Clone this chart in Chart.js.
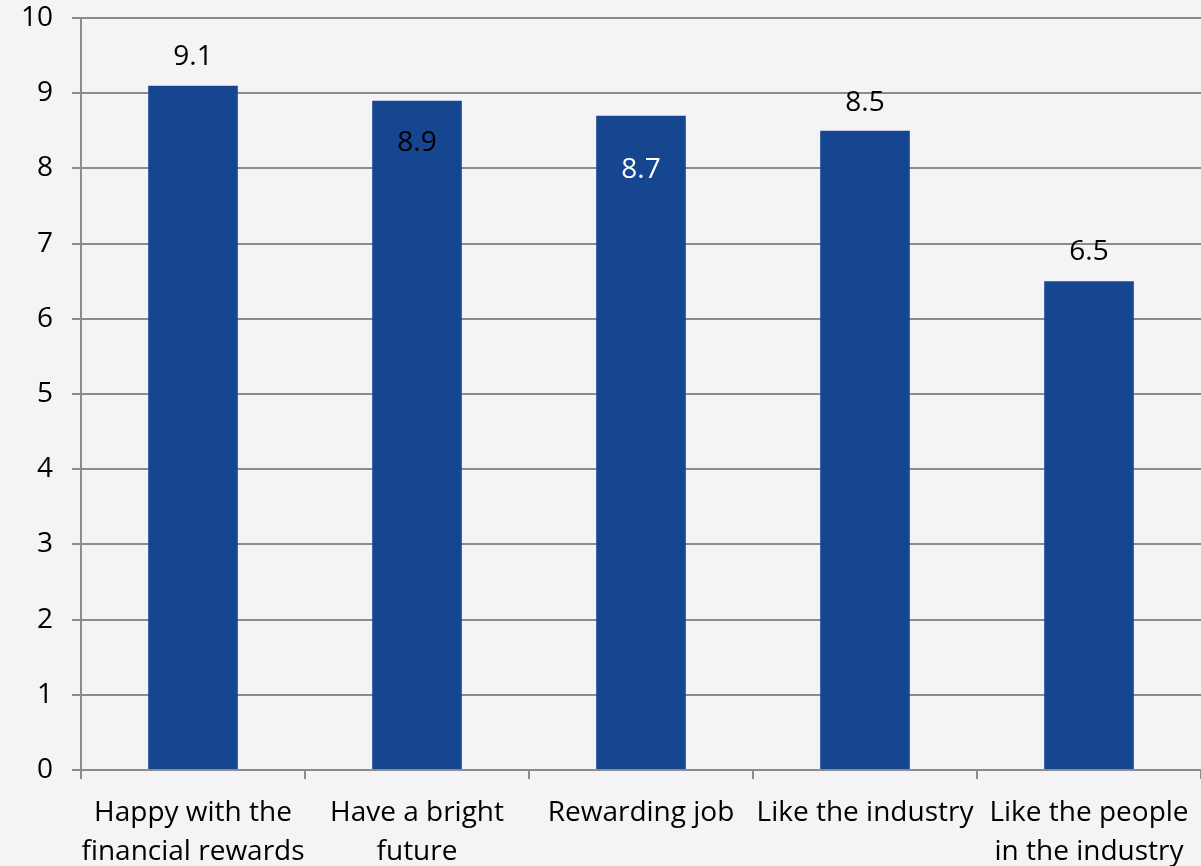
<!DOCTYPE html>
<html>
<head>
<meta charset="utf-8">
<script src="https://cdn.jsdelivr.net/npm/chart.js@4/dist/chart.umd.min.js"></script>
<style>
  html, body { margin: 0; padding: 0; background: #f4f4f6; }
  #wrap { width: 1201px; height: 866px; }
</style>
</head>
<body>
<div id="wrap"><canvas id="c" width="1201" height="866"></canvas></div>
<script>
const categories = [
  ["Happy with the", "financial rewards"],
  ["Have a bright", "future"],
  ["Rewarding job"],
  ["Like the industry"],
  ["Like the people", "in the industry"]
];
const scores = [9.1, 8.9, 8.7, 8.5, 6.5];
const yTicks = [0, 1, 2, 3, 4, 5, 6, 7, 8, 9, 10];

const FONT = "'Open Sans', 'Noto Sans', sans-serif";
const GRID = '#8c8c8c';

const labelPlacement = [-29, 42, 54, -28, -29];
const labelColors = ['#000000', '#000000', '#ffffff', '#000000', '#000000'];

const bgPlugin = {
  id: 'bg',
  beforeDraw(chart) {
    const ctx = chart.ctx;
    ctx.save();
    ctx.fillStyle = '#f4f4f6';
    ctx.fillRect(0, 0, chart.width, chart.height);
    ctx.restore();
  }
};

const valueLabels = {
  id: 'valueLabels',
  afterDatasetsDraw(chart) {
    const ctx = chart.ctx;
    const meta = chart.getDatasetMeta(0);
    ctx.save();
    ctx.font = '28px ' + FONT;
    ctx.textAlign = 'center';
    ctx.textBaseline = 'middle';
    meta.data.forEach((bar, i) => {
      ctx.fillStyle = labelColors[i];
      ctx.fillText(scores[i].toFixed(1), bar.x, bar.y + labelPlacement[i]);
    });
    ctx.restore();
  }
};

new Chart(document.getElementById('c'), {
  type: 'bar',
  data: {
    labels: categories,
    datasets: [{
      data: scores,
      backgroundColor: '#15468f',
      borderWidth: 0,
      barPercentage: 0.4,
      categoryPercentage: 1.0
    }]
  },
  options: {
    responsive: false,
    animation: false,
    devicePixelRatio: 1,
    layout: { padding: { top: 18, right: 0, left: 0, bottom: 0 } },
    plugins: {
      legend: { display: false },
      tooltip: { enabled: false }
    },
    scales: {
      x: {
        offset: true,
        grid: {
          display: true,
          offset: true,
          drawOnChartArea: false,
          drawTicks: true,
          tickLength: 9,
          color: GRID,
          lineWidth: 2
        },
        border: { display: true, color: GRID, width: 2 },
        ticks: {
          color: '#000000',
          font: { family: FONT, size: 28, lineHeight: 1.4 },
          padding: 14,
          maxRotation: 0,
          autoSkip: false
        },
        afterFit(scale) {
          scale.height = 96;
          scale.paddingLeft = 0;
          scale.paddingRight = 0;
        }
      },
      y: {
        min: 0,
        max: 10,
        afterBuildTicks(scale) { scale.ticks = yTicks.map(v => ({ value: v })); },
        grid: {
          color: GRID,
          lineWidth: 2,
          tickLength: 9,
          drawTicks: true
        },
        border: { display: true, color: GRID, width: 2 },
        ticks: {
          color: '#000000',
          font: { family: FONT, size: 28 },
          padding: 19
        },
        afterFit(scale) {
          scale.width = 81;
          scale.paddingTop = 0;
          scale.paddingBottom = 0;
        }
      }
    }
  },
  plugins: [bgPlugin, valueLabels]
});
</script>
</body>
</html>
